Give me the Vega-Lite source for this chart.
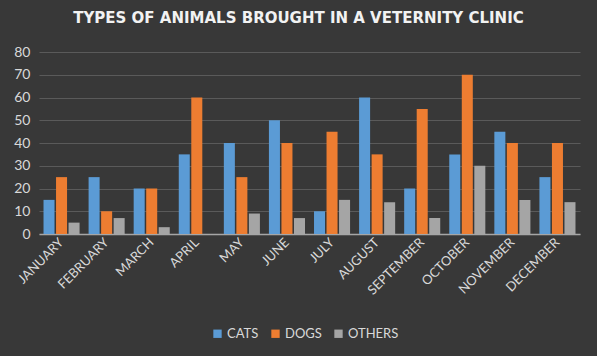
{
  "$schema": "https://vega.github.io/schema/vega-lite/v6.json",
  "width": 541,
  "height": 182,
  "autosize": {"type": "none"},
  "padding": {"left": 39, "top": 52, "right": 17, "bottom": 122},
  "background": "#383838",
  "title": {
    "text": "TYPES OF ANIMALS BROUGHT IN A VETERNITY CLINIC",
    "font": "DejaVu Sans",
    "fontSize": 15,
    "fontWeight": "bold",
    "color": "#f2f2f2",
    "anchor": "middle",
    "frame": "group",
    "offset": 19,
    "dx": -11
  },
  "data": {
    "values": [
      {"month": "JANUARY", "type": "CATS", "value": 15},
      {"month": "JANUARY", "type": "DOGS", "value": 25},
      {"month": "JANUARY", "type": "OTHERS", "value": 5},
      {"month": "FEBRUARY", "type": "CATS", "value": 25},
      {"month": "FEBRUARY", "type": "DOGS", "value": 10},
      {"month": "FEBRUARY", "type": "OTHERS", "value": 7},
      {"month": "MARCH", "type": "CATS", "value": 20},
      {"month": "MARCH", "type": "DOGS", "value": 20},
      {"month": "MARCH", "type": "OTHERS", "value": 3},
      {"month": "APRIL", "type": "CATS", "value": 35},
      {"month": "APRIL", "type": "DOGS", "value": 60},
      {"month": "APRIL", "type": "OTHERS", "value": 0},
      {"month": "MAY", "type": "CATS", "value": 40},
      {"month": "MAY", "type": "DOGS", "value": 25},
      {"month": "MAY", "type": "OTHERS", "value": 9},
      {"month": "JUNE", "type": "CATS", "value": 50},
      {"month": "JUNE", "type": "DOGS", "value": 40},
      {"month": "JUNE", "type": "OTHERS", "value": 7},
      {"month": "JULY", "type": "CATS", "value": 10},
      {"month": "JULY", "type": "DOGS", "value": 45},
      {"month": "JULY", "type": "OTHERS", "value": 15},
      {"month": "AUGUST", "type": "CATS", "value": 60},
      {"month": "AUGUST", "type": "DOGS", "value": 35},
      {"month": "AUGUST", "type": "OTHERS", "value": 14},
      {"month": "SEPTEMBER", "type": "CATS", "value": 20},
      {"month": "SEPTEMBER", "type": "DOGS", "value": 55},
      {"month": "SEPTEMBER", "type": "OTHERS", "value": 7},
      {"month": "OCTOBER", "type": "CATS", "value": 35},
      {"month": "OCTOBER", "type": "DOGS", "value": 70},
      {"month": "OCTOBER", "type": "OTHERS", "value": 30},
      {"month": "NOVEMBER", "type": "CATS", "value": 45},
      {"month": "NOVEMBER", "type": "DOGS", "value": 40},
      {"month": "NOVEMBER", "type": "OTHERS", "value": 15},
      {"month": "DECEMBER", "type": "CATS", "value": 25},
      {"month": "DECEMBER", "type": "DOGS", "value": 40},
      {"month": "DECEMBER", "type": "OTHERS", "value": 14}
    ]
  },
  "mark": {"type": "bar"},
  "encoding": {
    "x": {
      "field": "month",
      "type": "nominal",
      "sort": null,
      "scale": {"paddingInner": 0.2, "paddingOuter": 0.1},
      "axis": {
        "title": null,
        "labelAngle": -45,
        "labelAlign": "right",
        "labelBaseline": "middle",
        "labelFont": "Lato",
        "labelFontSize": 13,
        "labelColor": "#d9d9d9",
        "labelPadding": 6,
        "ticks": false,
        "domainColor": "#a6a6a6",
        "domainWidth": 1.5,
        "grid": false
      }
    },
    "xOffset": {
      "field": "type",
      "type": "nominal",
      "scale": {"paddingInner": 0.12}
    },
    "y": {
      "field": "value",
      "type": "quantitative",
      "scale": {"domain": [0, 80]},
      "axis": {
        "title": null,
        "values": [0, 10, 20, 30, 40, 50, 60, 70, 80],
        "labelFont": "Lato",
        "labelFontSize": 14,
        "labelColor": "#d9d9d9",
        "labelPadding": 9,
        "ticks": false,
        "domain": false,
        "gridColor": "#5a5a5a",
        "gridWidth": 1
      }
    },
    "color": {
      "field": "type",
      "type": "nominal",
      "scale": {
        "domain": ["CATS", "DOGS", "OTHERS"],
        "range": ["#5B9BD5", "#ED7D31", "#A5A5A5"]
      },
      "legend": {
        "title": null,
        "orient": "none",
        "legendX": 172,
        "legendY": 275,
        "direction": "horizontal",
        "symbolType": "square",
        "symbolSize": 70,
        "symbolStrokeWidth": 0,
        "labelFont": "Lato",
        "labelFontSize": 13,
        "labelColor": "#d9d9d9",
        "columnPadding": 10,
        "labelOffset": 3
      }
    }
  },
  "config": {
    "view": {"stroke": null}
  }
}
